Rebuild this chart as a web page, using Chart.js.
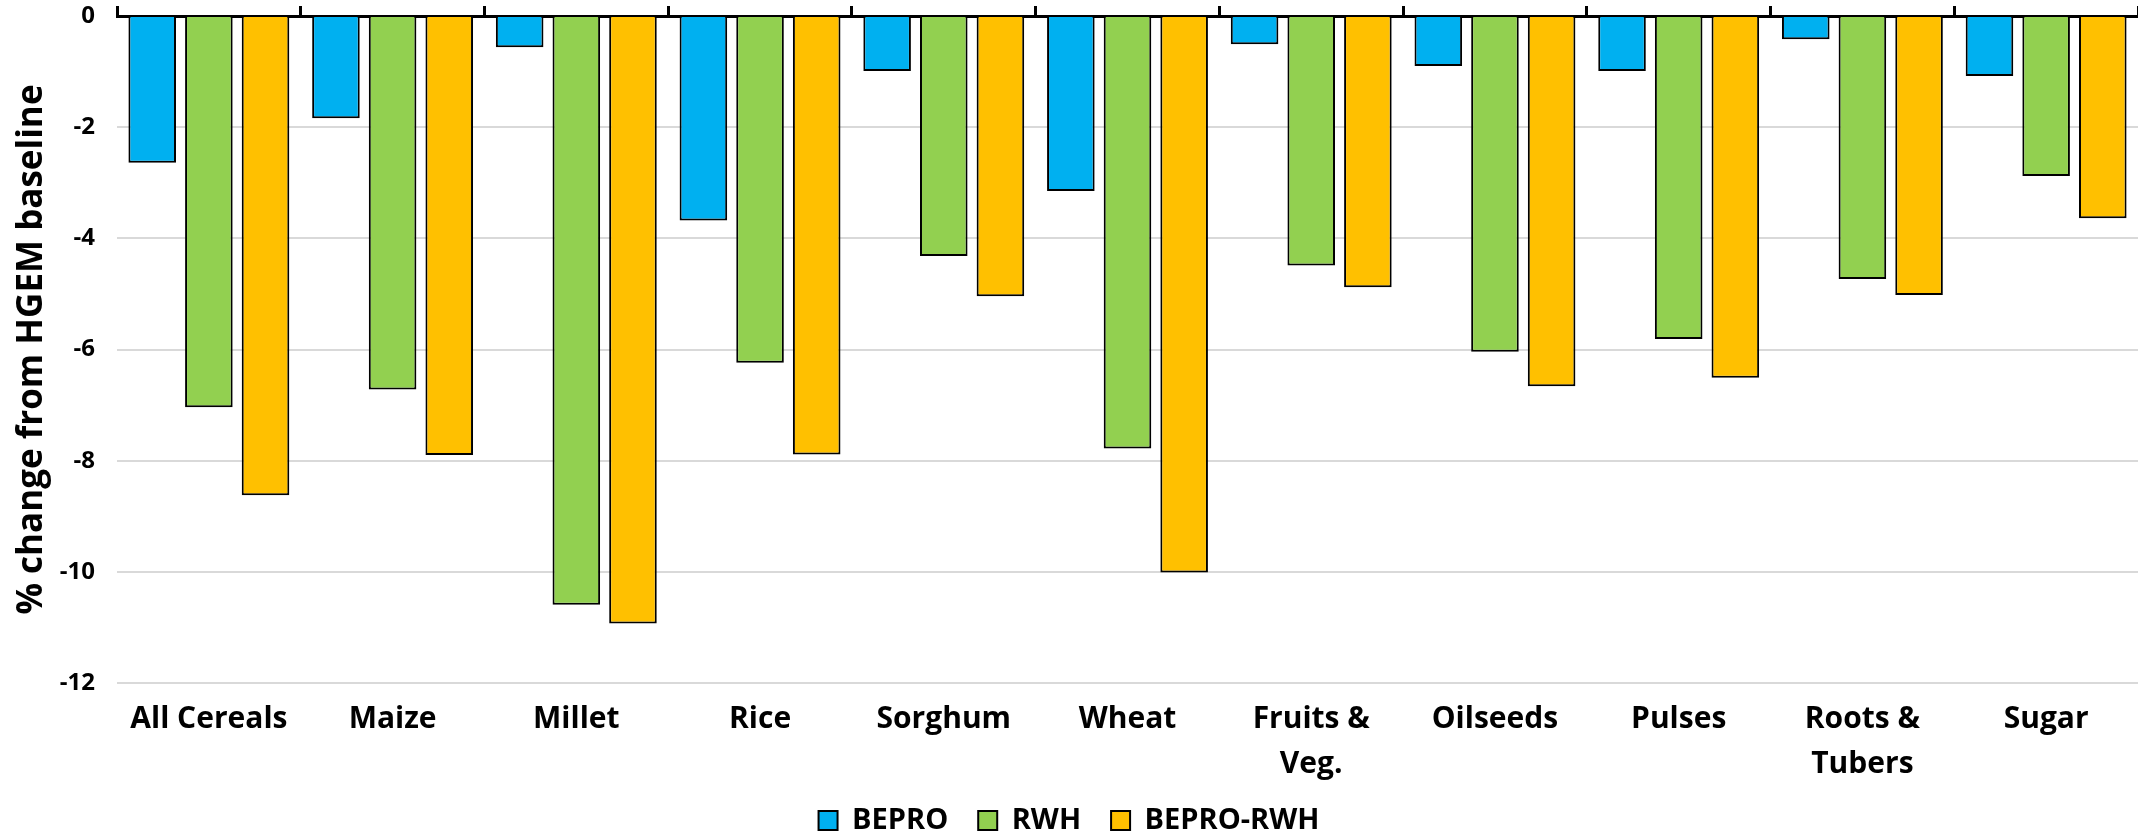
<!DOCTYPE html>
<html>
<head>
<meta charset="utf-8">
<title>% change from HGEM baseline</title>
<script src="https://cdn.jsdelivr.net/npm/chart.js@4.4.1/dist/chart.umd.min.js"></script>
<style>
  html, body { margin: 0; padding: 0; background: #ffffff; }
  #grafico { display: block; }
</style>
</head>
<body>
<canvas id="grafico" width="2138" height="835"></canvas>
<script>
// Dados
const categorias = ['All Cereals', 'Maize', 'Millet', 'Rice', 'Sorghum', 'Wheat',
  ['Fruits &', 'Veg.'], 'Oilseeds', 'Pulses', ['Roots &', 'Tubers'], 'Sugar'];

const bepro = [-2.64, -1.84, -0.56, -3.68, -0.99, -3.15, -0.51, -0.90, -0.99, -0.42, -1.08];
const rwh = [-7.04, -6.72, -10.59, -6.24, -4.32, -7.78, -4.49, -6.04, -5.81, -4.73, -2.88];
const beproRwh = [-8.62, -7.90, -10.93, -7.89, -5.04, -10.01, -4.88, -6.66, -6.51, -5.02, -3.64];

const nomesSeries = ['BEPRO', 'RWH', 'BEPRO-RWH'];
const cores = ['#00B0F0', '#92D050', '#FFC000'];

const yMin = -12;
const yMax = 0;
const yPasso = 2;

const fonte = "'Open Sans', 'DejaVu Sans', sans-serif";

// deixa os rótulos de duas linhas passarem por cima da área da legenda
const semCorteRotulos = {
  id: 'semCorteRotulos',
  afterLayout(chart) {
    chart.scales.x.bottom = chart.height;
  }
};

const ctx = document.getElementById('grafico').getContext('2d');

const meuGrafico = new Chart(ctx, {
  type: 'bar',
  data: {
    labels: categorias,
    datasets: [bepro, rwh, beproRwh].map((valores, i) => ({
      label: nomesSeries[i],
      data: valores,
      backgroundColor: cores[i],
      borderColor: '#000000',
      borderWidth: 2,
      categoryPercentage: 0.925,
      barPercentage: 0.84
    }))
  },
  plugins: [semCorteRotulos],
  options: {
    responsive: false,
    animation: false,
    devicePixelRatio: 1,
    layout: {
      padding: { top: 6, right: 0, bottom: -10, left: 0 }
    },
    plugins: {
      tooltip: { enabled: false },
      legend: {
        position: 'bottom',
        labels: {
          color: '#000000',
          boxWidth: 19,
          boxHeight: 19,
          padding: 30,
          font: { family: fonte, size: 29, weight: 'bold' }
        }
      }
    },
    scales: {
      x: {
        position: 'bottom',
        grid: { display: false, drawTicks: false },
        border: { display: false },
        ticks: {
          color: '#000000',
          padding: 14,
          maxRotation: 0,
          autoSkip: false,
          font: { family: fonte, size: 30, weight: 'bold', lineHeight: 1.5 }
        },
        afterFit: (scale) => { scale.height = 93; }
      },
      x2: {
        type: 'category',
        position: 'top',
        offset: true,
        grid: {
          offset: true,
          drawOnChartArea: false,
          color: '#000000',
          lineWidth: 3,
          tickLength: 10
        },
        border: { display: true, color: '#000000', width: 3 },
        ticks: { display: false },
        afterFit: (scale) => { scale.height = 10; }
      },
      y: {
        min: yMin,
        max: yMax,
        border: { display: false },
        grid: {
          drawTicks: false,
          lineWidth: 2,
          color: (c) => (c.tick && c.tick.value === 0 ? 'rgba(0,0,0,0)' : '#d9d9d9')
        },
        ticks: {
          stepSize: yPasso,
          color: '#000000',
          padding: 22,
          font: { family: fonte, size: 24, weight: 'bold' }
        },
        title: {
          display: true,
          text: '% change from HGEM baseline',
          color: '#000000',
          padding: { top: 11, bottom: 0 },
          font: { family: fonte, size: 35, weight: 'bold' }
        },
        afterFit: (scale) => {
          scale.width = 117;
          scale.paddingTop = 0;
          scale.paddingBottom = 0;
        }
      }
    }
  }
});
</script>
</body>
</html>
